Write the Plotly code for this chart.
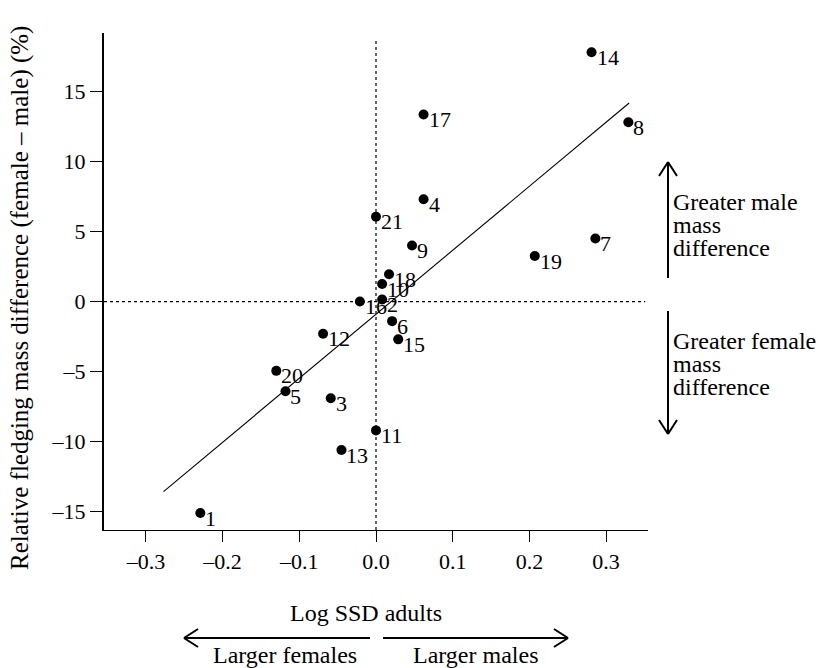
import plotly.graph_objects as go

# Species data: log sexual size dimorphism of adults vs relative fledging mass difference
species_id = ["1", "2", "3", "4", "5", "6", "7", "8", "9", "10", "11",
              "12", "13", "14", "15", "16", "17", "18", "19", "20", "21"]
log_ssd = [-0.229, 0.008, -0.059, 0.062, -0.118, 0.021, 0.286, 0.329, 0.047, 0.008, 0.0,
           -0.069, -0.045, 0.281, 0.029, -0.021, 0.062, 0.017, 0.207, -0.130, 0.0]
mass_diff = [-15.1, 0.15, -6.9, 7.3, -6.4, -1.4, 4.5, 12.8, 4.0, 1.25, -9.2,
             -2.3, -10.6, 17.8, -2.7, 0.0, 13.35, 1.95, 3.25, -4.95, 6.05]

# Fitted regression line
fit_intercept = -0.91
fit_slope = 45.7
fit_x = [-0.277, 0.330]
fit_y = [fit_intercept + fit_slope * v for v in fit_x]

x_ticks = [-0.3, -0.2, -0.1, 0.0, 0.1, 0.2, 0.3]
x_ticktext = ["–0.3", "–0.2", "–0.1", "0.0", "0.1", "0.2", "0.3"]
y_ticks = [-15, -10, -5, 0, 5, 10, 15]
y_ticktext = ["–15", "–10", "–5", "0", "5", "10", "15"]

male_note = ["Greater male", "mass", "difference"]
female_note = ["Greater female", "mass", "difference"]

x_range = [-0.3546, 0.3546]
y_range = [-16.31, 19.17]

FONT = "Liberation Serif"
FS_NUM = 22    # tick and point labels
FS_TXT = 24    # descriptive labels
FS_TITLE = 25  # y axis title

# plot-area geometry in pixels (used to place the decorations outside the axes)
PL, PR, PT, PB = 104, 648, 33, 530
PW, PH = PR - PL, PB - PT


def px(xp):
    return (xp - PL) / PW


def py(yp):
    return (PB - yp) / PH


fig = go.Figure()

# Reference lines at zero
fig.add_shape(type="line", x0=x_range[0], x1=0.351, y0=0, y1=0,
              line=dict(color="black", width=1.2, dash="dot"), layer="below")
fig.add_shape(type="line", x0=0, x1=0, y0=y_range[0], y1=18.8,
              line=dict(color="black", width=1.2, dash="dot"), layer="below")

fig.add_trace(go.Scatter(x=fit_x, y=fit_y, mode="lines",
                         line=dict(color="black", width=1.1), hoverinfo="skip"))
fig.add_trace(go.Scatter(x=log_ssd, y=mass_diff, mode="markers",
                         marker=dict(color="black", size=10),
                         text=species_id))

for sid, xv, yv in zip(species_id, log_ssd, mass_diff):
    fig.add_annotation(x=xv, y=yv, text=sid, showarrow=False,
                       xanchor="left", yanchor="middle", xshift=3, yshift=-5,
                       font=dict(family=FONT, size=FS_NUM, color="black"))

# Axis title and direction labels below the x axis
for label, xp, yp in [("Log SSD adults", 366, 613),
                      ("Larger females", 285, 655),
                      ("Larger males", 476, 655)]:
    fig.add_annotation(xref="paper", yref="paper", x=px(xp), y=py(yp),
                       text=label, showarrow=False, xanchor="center", yanchor="middle",
                       font=dict(family=FONT, size=FS_TXT, color="black"))


def seg(x0, y0, x1, y1):
    fig.add_shape(type="line", xref="paper", yref="paper",
                  x0=px(x0), y0=py(y0), x1=px(x1), y1=py(y1),
                  line=dict(color="black", width=2))


def arrow(x_tip, y_tip, x_tail, y_tail, back=14, half=9):
    # shaft plus an open chevron head
    seg(x_tail, y_tail, x_tip, y_tip)
    if y_tip == y_tail:
        d = 1 if x_tail > x_tip else -1
        seg(x_tip, y_tip, x_tip + d * back, y_tip - half)
        seg(x_tip, y_tip, x_tip + d * back, y_tip + half)
    else:
        d = 1 if y_tail > y_tip else -1
        seg(x_tip, y_tip, x_tip - half, y_tip + d * back)
        seg(x_tip, y_tip, x_tip + half, y_tip + d * back)


arrow(184, 638, 370, 638)
arrow(568, 638, 383, 638)
arrow(668, 162, 668, 278)
arrow(668, 434, 668, 311)

# Right-hand notes, one annotation per line for tight leading
for lines, y_first in [(male_note, 202), (female_note, 341)]:
    for i, line in enumerate(lines):
        fig.add_annotation(xref="paper", yref="paper", x=px(671), y=py(y_first + 23 * i),
                           text=line, showarrow=False, xanchor="left", yanchor="middle",
                           font=dict(family=FONT, size=FS_TXT, color="black"))

# Y axis title
fig.add_annotation(xref="paper", yref="paper", x=px(20), y=py(298),
                   text="Relative fledging mass difference (female – male) (%)",
                   showarrow=False, textangle=-90, xanchor="center", yanchor="middle",
                   font=dict(family=FONT, size=FS_TITLE, color="black"))

fig.update_xaxes(range=x_range, tickvals=x_ticks, ticktext=x_ticktext,
                 showgrid=False, zeroline=False, showline=True, linecolor="black",
                 linewidth=1.2, ticks="outside", ticklen=11, tickcolor="black",
                 tickwidth=1.2, tickfont=dict(family=FONT, size=FS_NUM, color="black"))
fig.update_yaxes(range=y_range, tickvals=y_ticks, ticktext=y_ticktext,
                 showgrid=False, zeroline=False, showline=True, linecolor="black",
                 linewidth=2, ticks="outside", ticklen=12, tickcolor="black",
                 tickwidth=1.2, tickfont=dict(family=FONT, size=FS_NUM, color="black"))

fig.update_layout(width=829, height=668, showlegend=False,
                  plot_bgcolor="white", paper_bgcolor="white",
                  margin=dict(l=PL, r=829 - PR, t=PT, b=668 - PB),
                  font=dict(family=FONT, size=FS_NUM, color="black"))

fig.write_html("out.html")
